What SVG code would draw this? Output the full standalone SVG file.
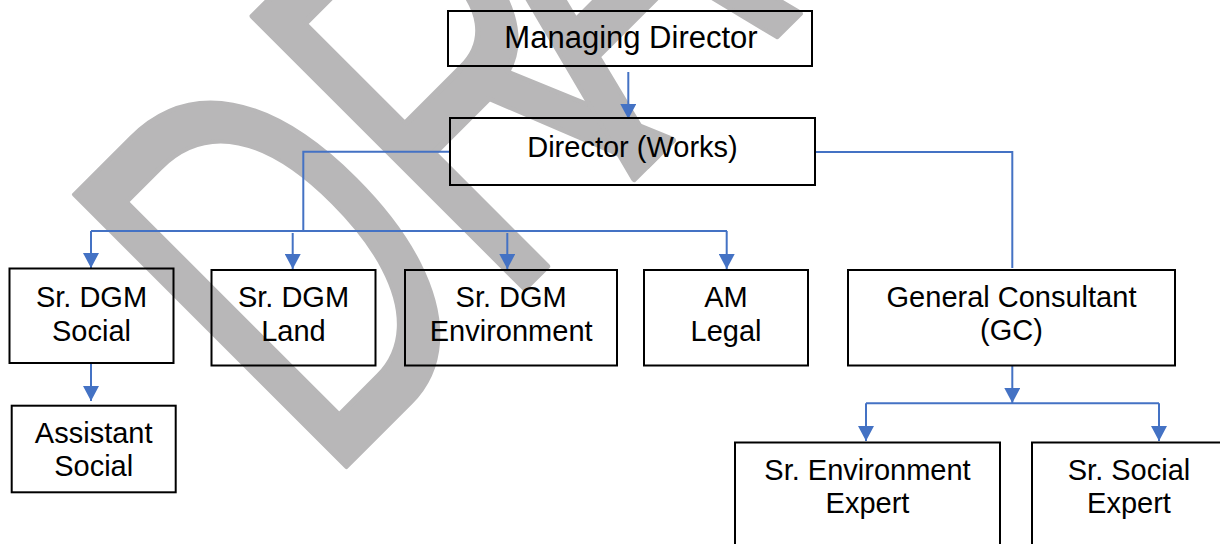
<svg xmlns="http://www.w3.org/2000/svg" width="1220" height="544" viewBox="0 0 1220 544">
<defs>
<style>
.box{fill:none;stroke:#000;stroke-width:2}
.t{font-family:"Liberation Sans",Arial,sans-serif;font-size:29px;fill:#000;text-anchor:middle}
.c{fill:none;stroke:#4472C4;stroke-width:2}
.wm{font-family:"Liberation Sans",Arial,sans-serif;font-size:356px;fill:#b8b7b8;stroke:#b8b7b8;stroke-width:4;stroke-linejoin:round;vector-effect:non-scaling-stroke}
</style>
<marker id="ah" markerWidth="16" markerHeight="16" viewBox="0 0 16 16" refX="15" refY="8" orient="auto" markerUnits="userSpaceOnUse">
<path d="M0,0 L15,8 L0,16 Z" fill="#4472C4"/>
</marker>
</defs>
<rect width="1220" height="544" fill="#fff"/>
<g id="watermark">
<text class="wm" transform="translate(325.2,487.8) rotate(-45) scale(1,1.57)" x="0" y="0">D<tspan dx="-5">R</tspan><tspan dx="-74">A</tspan>FT</text>
</g>
<g id="connectors">
<path class="c" d="M628.3,72 V119" marker-end="url(#ah)"/>
<path class="c" d="M450,151.7 H303.3 V231"/>
<path class="c" d="M91,231 H727"/>
<path class="c" d="M91,231 V268" marker-end="url(#ah)"/>
<path class="c" d="M292.7,233 V269" marker-end="url(#ah)"/>
<path class="c" d="M507.3,233 V269" marker-end="url(#ah)"/>
<path class="c" d="M726.7,231 V269" marker-end="url(#ah)"/>
<path class="c" d="M815,152 H1012.3 V268"/>
<path class="c" d="M1012.3,365 V403" marker-end="url(#ah)"/>
<path class="c" d="M866,403.3 H1159"/>
<path class="c" d="M866,403.3 V441" marker-end="url(#ah)"/>
<path class="c" d="M1159,403.3 V441" marker-end="url(#ah)"/>
<path class="c" d="M91,363 V401" marker-end="url(#ah)"/>
</g>
<g id="n-md">
<rect class="box" x="448" y="11" width="364" height="55"/>
<text class="t" x="631" y="48.3" style="font-size:31px">Managing Director</text>
</g>
<g id="n-dw">
<rect class="box" x="450" y="118" width="365" height="67"/>
<text class="t" x="632.5" y="157">Director (Works)</text>
</g>
<g id="n-social">
<rect class="box" x="9.5" y="268.5" width="164" height="94.5"/>
<text class="t" x="91.5" y="307.3">Sr. DGM</text>
<text class="t" x="91.5" y="340.7">Social</text>
</g>
<g id="n-land">
<rect class="box" x="211.5" y="270" width="164" height="95.5"/>
<text class="t" x="293.5" y="307.3">Sr. DGM</text>
<text class="t" x="293.5" y="340.7">Land</text>
</g>
<g id="n-env">
<rect class="box" x="405" y="270" width="212" height="95.5"/>
<text class="t" x="511.2" y="307.3">Sr. DGM</text>
<text class="t" x="511.2" y="340.7">Environment</text>
</g>
<g id="n-legal">
<rect class="box" x="644" y="270" width="164" height="95.5"/>
<text class="t" x="726" y="307.3">AM</text>
<text class="t" x="726" y="340.7">Legal</text>
</g>
<g id="n-gc">
<rect class="box" x="848" y="270" width="327" height="95.5"/>
<text class="t" x="1011.5" y="306.7">General Consultant</text>
<text class="t" x="1011.5" y="340.1">(GC)</text>
</g>
<g id="n-asst">
<rect class="box" x="11.7" y="405.7" width="164" height="86.6"/>
<text class="t" x="93.7" y="442.7">Assistant</text>
<text class="t" x="93.7" y="476.1">Social</text>
</g>
<g id="n-envexp">
<rect class="box" x="735" y="442.5" width="265" height="110"/>
<text class="t" x="867.5" y="480">Sr. Environment</text>
<text class="t" x="867.5" y="513.4">Expert</text>
</g>
<g id="n-socexp">
<rect class="box" x="1032" y="442.5" width="200" height="110"/>
<text class="t" x="1129" y="480">Sr. Social</text>
<text class="t" x="1129" y="513.4">Expert</text>
</g>
</svg>
